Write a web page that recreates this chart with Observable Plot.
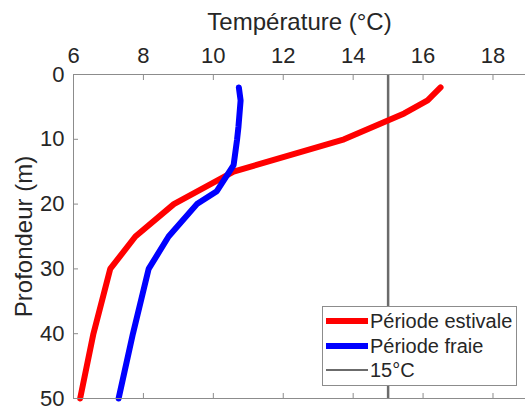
<!DOCTYPE html>
<html>
<head>
<meta charset="utf-8">
<script src="https://cdn.jsdelivr.net/npm/d3@7"></script>
<script src="https://cdn.jsdelivr.net/npm/@observablehq/plot@0.6"></script>
<style>
  html, body { margin: 0; padding: 0; background: #fff; }
  #wrap { position: relative; width: 525px; height: 408px; overflow: hidden; font-family: "Liberation Sans", Arial, sans-serif; }
  #legend { position: absolute; left: 322px; top: 306px; width: 195px; height: 80px; border: 1px solid #8c8c8c; background: #fff; box-sizing: border-box; }
  .row { position: absolute; left: 3px; height: 24px; display: flex; align-items: center; font-size: 20px; color: #262626; white-space: nowrap; }
  .sw { width: 42px; margin-right: 2px; }
</style>
</head>
<body>
<div id="wrap"></div>
<script>
// Data
const depthEstivale = [2, 4, 6, 10, 15, 20, 25, 30, 40, 50];
const tempEstivale  = [16.5, 16.13, 15.46, 13.74, 10.58, 8.87, 7.77, 7.05, 6.57, 6.19];
const depthFraie = [2, 4, 8, 10, 14, 18, 20, 25, 30, 40, 50];
const tempFraie  = [10.73, 10.78, 10.72, 10.68, 10.58, 10.1, 9.53, 8.72, 8.15, 7.7, 7.29];
const seuil = [15];
const xTicks = [6, 8, 10, 12, 14, 16, 18];
const yTicks = [0, 10, 20, 30, 40, 50];
const seriesNames = ["Période estivale", "Période fraie", "15°C"];
const seriesColors = ["#ff0000", "#0000ff", "#6b6b6b"];
const seriesWidths = [6, 6, 2.5];
const xLabel = "Température (°C)";
const yLabel = "Profondeur (m)";

const estivale = depthEstivale.map((d, i) => ({d, t: tempEstivale[i]}));
const fraie = depthFraie.map((d, i) => ({d, t: tempFraie[i]}));

const axisColor = "#8c8c8c";
const chart = Plot.plot({
  width: 525,
  height: 408,
  marginTop: 74,
  marginBottom: 10,
  marginLeft: 73,
  marginRight: 0,
  style: {fontFamily: "Liberation Sans, Arial, sans-serif", color: "#262626", background: "#fff"},
  x: {domain: [6, 18.93]},
  y: {domain: [0, 50], reverse: true},
  marks: [
    Plot.ruleX(seuil, {stroke: seriesColors[2], strokeWidth: seriesWidths[2]}),
    Plot.line(estivale, {x: "t", y: "d", stroke: seriesColors[0], strokeWidth: seriesWidths[0], strokeLinejoin: "miter"}),
    Plot.line(fraie, {x: "t", y: "d", stroke: seriesColors[1], strokeWidth: seriesWidths[1], strokeLinejoin: "miter"}),
    Plot.ruleY([0, 50], {stroke: axisColor}),
    Plot.ruleX([6], {stroke: axisColor}),
    Plot.axisX(xTicks, {anchor: "top", tickSize: -5, stroke: axisColor, tickFormat: () => "", label: null}),
    Plot.axisX(xTicks, {anchor: "bottom", tickSize: -5, stroke: axisColor, tickFormat: () => "", label: null}),
    Plot.axisY(yTicks, {anchor: "left", tickSize: -5, stroke: axisColor, tickFormat: () => "", label: null}),
    Plot.axisX(xTicks, {anchor: "top", tickSize: 0, tickPadding: 12, fontSize: 22, label: null}),
    Plot.axisY(yTicks, {anchor: "left", tickSize: 0, tickPadding: 9, fontSize: 22, label: null}),
    Plot.text([xLabel], {frameAnchor: "top", dy: -52, lineAnchor: "middle", textAnchor: "middle", fontSize: 24, fill: "#262626"}),
    Plot.text([yLabel], {frameAnchor: "left", dx: -49, rotate: -90, lineAnchor: "middle", textAnchor: "middle", fontSize: 24, fill: "#262626"})
  ]
});
const wrap = document.getElementById("wrap");
wrap.appendChild(chart);

const legend = document.createElement("div");
legend.id = "legend";
const rowTops = [2, 27, 51];
seriesNames.forEach((name, i) => {
  const row = document.createElement("div");
  row.className = "row";
  row.style.top = rowTops[i] + "px";
  const sw = document.createElement("div");
  sw.className = "sw";
  sw.style.height = seriesWidths[i] + "px";
  sw.style.background = seriesColors[i];
  const tx = document.createElement("span");
  tx.textContent = name;
  row.appendChild(sw);
  row.appendChild(tx);
  legend.appendChild(row);
});
wrap.appendChild(legend);
</script>
</body>
</html>
